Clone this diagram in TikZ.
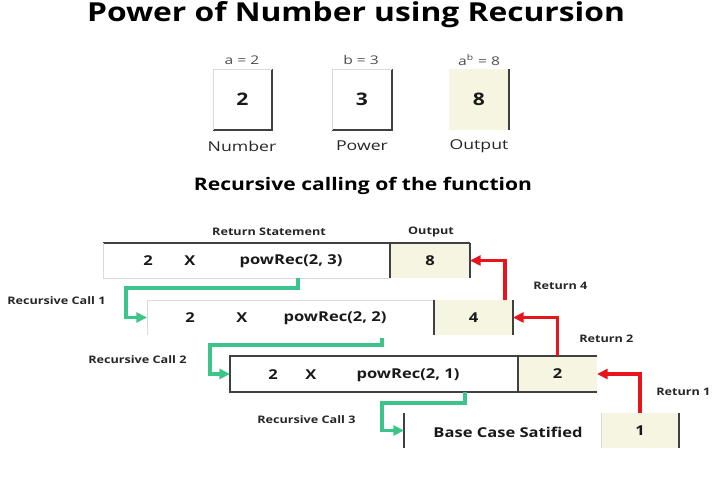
\documentclass[tikz,border=0pt]{standalone}
\usepackage{fontspec}
\usepackage{graphicx}
\setmainfont{Open Sans}
\newcommand{\semi}{\bfseries}
\newcommand{\hs}[1]{\scalebox{1.3}[1]{#1}}
\newcommand{\hb}[1]{\scalebox{1.215}[1]{#1}}
\usetikzlibrary{arrows.meta,calc}
\definecolor{beige}{HTML}{F5F5E1}
\definecolor{gline}{HTML}{3CC48A}
\definecolor{rline}{HTML}{E8141C}
\definecolor{bline}{HTML}{404040}
\definecolor{faint}{HTML}{DADADA}
\tikzset{
  cell/.style={inner sep=0pt, outer sep=0pt, anchor=north west},
  outcell/.style={cell, fill=beige},
  edge/.style={draw=bline, line width=0.8pt},
  faintedge/.style={draw=faint, line width=0.6pt},
  garrow/.style={draw=gline, line width=2.6pt, -{Triangle[length=8pt,width=7.5pt]}},
  rarrow/.style={draw=rline, line width=2.4pt, -{Triangle[length=8pt,width=7.5pt]}},
  rowtxt/.style={inner sep=0pt, font=\fontsize{10.2}{12}\selectfont\semi, text=black!90},
  smalllbl/.style={inner sep=0pt, font=\fontsize{7.8}{9}\selectfont\semi, text=black!85},
  calllbl/.style={inner sep=0pt, font=\fontsize{7.8}{9}\selectfont\semi, text=black!85, anchor=west},
  toplbl/.style={inner sep=0pt, font=\fontsize{9}{10}\selectfont, text=black!70},
  boxnum/.style={inner sep=0pt, font=\fontsize{13}{15}\selectfont\semi, text=black!90},
  caption/.style={inner sep=0pt, font=\fontsize{10.2}{12}\selectfont, text=black!85},
}
\begin{document}
\begin{tikzpicture}[x=0.75pt,y=-0.75pt]
\useasboundingbox (0,0) rectangle (713,489);
% title
\node[inner sep=0pt] (title) at (356,15) {\fontsize{19.6}{23}\selectfont\semi\hb{Power of Number using Recursion}};
% top boxes
\node[cell, minimum width=59*0.75pt, minimum height=61*0.75pt] (b1) at (213,69) {};
\node[cell, minimum width=60*0.75pt, minimum height=61*0.75pt] (b2) at (332,69) {};
\node[outcell, minimum width=60*0.75pt, minimum height=61*0.75pt] (b3) at (449,69) {};
\draw[edge] (b1.north east) -- (b1.south east) -- (b1.south west);
\draw[edge] (b2.north east) -- (b2.south east) -- (b2.south west);
\draw[edge] (b3.north east) -- (b3.south east);
\draw[faintedge] (b1.south west) -- (b1.north west) -- (b1.north east);
\draw[faintedge] (b2.south west) -- (b2.north west) -- (b2.north east);
\node[boxnum] (n1) at (b1) {\hb{2}};
\node[boxnum] (n2) at (b2) {\hb{3}};
\node[boxnum] (n3) at (b3) {\hb{8}};
\node[toplbl] (la) at (242,60) {\hs{a = 2}};
\node[toplbl] (lb) at (361,60) {\hs{b = 3}};
\node[toplbl] (lc) at (479,60) {\hs{a\textsuperscript{b} = 8}};
\node[caption] (cn) at (242,146) {\hs{Number}};
\node[caption] (cp) at (362,146) {\hs{Power}};
\node[caption] (co) at (479,146) {\hs{Output}};
% subtitle
\node[inner sep=0pt] (sub) at (363,186) {\fontsize{13}{16}\selectfont\semi\hb{Recursive calling of the function}};
% row 1
\node[smalllbl] (rs) at (269,232) {\hb{Return Statement}};
\node[smalllbl] (ol) at (431,232) {\hb{Output}};
\node[cell, minimum width=287*0.75pt, minimum height=35*0.75pt] (r1) at (103,243) {};
\node[outcell, minimum width=80*0.75pt, minimum height=35*0.75pt] (o1) at (390,243) {};
\draw[edge] (r1.north west) -- (o1.north east);
\draw[edge] (o1.north west) -- (o1.south west);
\draw[edge] (o1.north east) -- (o1.south east);
\draw[faintedge] (r1.north west) -- (r1.south west) -- (r1.south east);
\node[rowtxt] (t11) at (148,261) {\hb{2}};
\node[rowtxt] (t12) at (190,261) {\hb{X}};
\node[rowtxt] (t13) at (291,261) {\hb{powRec(2, 3)}};
\node[rowtxt] (t14) at (o1) {\hb{8}};
% row 2
\node[cell, minimum width=287*0.75pt, minimum height=35*0.75pt] (r2) at (147,300) {};
\node[outcell, minimum width=79*0.75pt, minimum height=35*0.75pt] (o2) at (434,300) {};
\draw[faintedge] (r2.south west) -- (r2.north west) -- (r2.north east);
\draw[edge] (o2.north west) -- (o2.south west);
\draw[edge] (o2.north east) -- (o2.south east);
\node[rowtxt] (t21) at (190,318) {\hb{2}};
\node[rowtxt] (t22) at (242,318) {\hb{X}};
\node[rowtxt] (t23) at (335,318) {\hb{powRec(2, 2)}};
\node[rowtxt] (t24) at (o2) {\hb{4}};
\node[calllbl] (c1) at (7,301) {\hb{Recursive Call 1}};
% row 3
\node[cell, minimum width=288*0.75pt, minimum height=36*0.75pt] (r3) at (230,356) {};
\node[outcell, minimum width=79*0.75pt, minimum height=36*0.75pt] (o3) at (518,356) {};
\draw[edge] (o3.north east) -- (r3.north west) -- (r3.south west) -- (o3.south east);
\draw[edge] (o3.north west) -- (o3.south west);
\node[rowtxt] (t31) at (273,375) {\hb{2}};
\node[rowtxt] (t32) at (311,375) {\hb{X}};
\node[rowtxt] (t33) at (408,375) {\hb{powRec(2, 1)}};
\node[rowtxt] (t34) at (o3) {\hb{2}};
\node[calllbl] (c2) at (88,360) {\hb{Recursive Call 2}};
% row 4
\node[cell, minimum width=197*0.75pt, minimum height=35*0.75pt] (r4) at (404,413) {};
\node[outcell, minimum width=78*0.75pt, minimum height=35*0.75pt] (o4) at (601,413) {};
\draw[edge] (r4.north west) -- (r4.south west);
\draw[edge] (o4.north east) -- (o4.south east);
\draw[faintedge] (o4.north west) -- (o4.south west);
\node[rowtxt] (t41) at (508,432) {\hb{Base Case Satified}};
\node[rowtxt] (t42) at (o4) {\hb{1}};
\node[calllbl] (c3) at (257,420) {\hb{Recursive Call 3}};
% green call arrows
\draw[garrow] ($(r1.south west)+(195,0)$) -- ++(0,10) -| ($(r2.west)+(-21,0)$) -- (r2.west);
\draw[garrow] ($(r2.south west)+(235,3)$) -- ++(0,7) -| ($(r3.west)+(-20,0)$) -- (r3.west);
\draw[garrow] ($(r3.south west)+(235,0)$) -- ++(0,11) -| ($(r4.west)+(-22,0)$) -- (r4.west);
% red return arrows
\draw[rarrow] ($(o2.north west)+(71,0)$) |- (o1.east);
\draw[rarrow] (o3.north) |- (o2.east);
\draw[rarrow] (o4.north) |- (o3.east);
\node[calllbl] (ret4) at (533,286) {\hb{Return 4}};
\node[calllbl] (ret2) at (579,339) {\hb{Return 2}};
\node[calllbl] (ret1) at (656,392) {\hb{Return 1}};
\end{tikzpicture}
\end{document}
